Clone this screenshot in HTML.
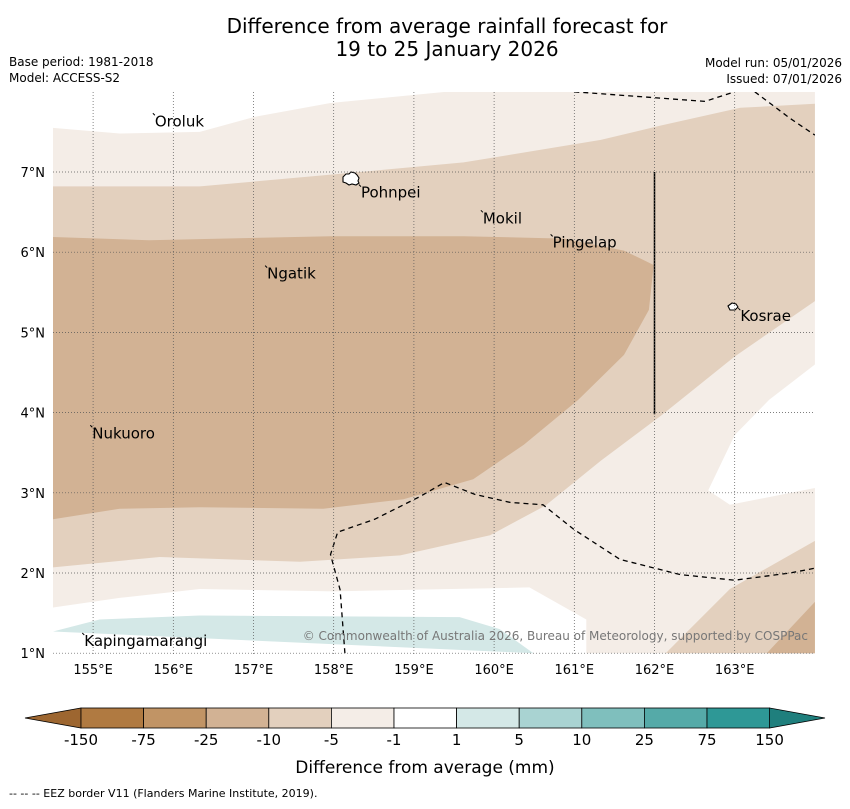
<!DOCTYPE html>
<html><head><meta charset="utf-8"><style>
body{margin:0;background:#fff;font-family:"Liberation Sans","DejaVu Sans",sans-serif}
svg text{font-family:"DejaVu Sans","Liberation Sans",sans-serif}
</style></head><body>
<svg id="c" width="850" height="804" viewBox="0 0 850 804">
<text x="447" y="33" font-size="20" text-anchor="middle">Difference from average rainfall forecast for</text>
<text x="447" y="56" font-size="20" text-anchor="middle">19 to 25 January 2026</text>
<text x="9" y="66" font-size="12">Base period: 1981-2018</text>
<text x="9" y="82" font-size="12">Model: ACCESS-S2</text>
<text x="842" y="67" font-size="12" text-anchor="end">Model run: 05/01/2026</text>
<text x="842" y="83" font-size="12" text-anchor="end">Issued: 07/01/2026</text>
<defs><clipPath id="mc"><rect x="53" y="92" width="762" height="562"/></clipPath></defs>
<g id="map" clip-path="url(#mc)"></g>
<g id="axes"></g>
<g id="cbar"></g>
<text x="425" y="773" font-size="17" text-anchor="middle">Difference from average (mm)</text>
<text x="9" y="797" font-size="11">--  --  -- EEZ border V11 (Flanders Marine Institute, 2019).</text>
</svg>
<script>
const lonTicks=[155,156,157,158,159,160,161,162,163];
const latTicks=[1,2,3,4,5,6,7];
const cbLabels=["-150","-75","-25","-10","-5","-1","1","5","10","25","75","150"];
const cbColors=["#b07a41","#c19465","#d2b294","#e3d0be","#f4ede7","#ffffff","#d4e8e7","#a9d3d2","#7fbfbd","#55aaa8","#2e9896"];
const bandMinus5=[[154.5,7.55],[155.33,7.48],[156.33,7.5],[157.02,7.69],[157.96,7.86],[159.4,8.0],[164,8],[164,4.6],[163.43,4.16],[163,3.72],[162.67,3.03],[162.94,2.85],[164,3.06],[164,1],[161.15,1],[161.15,1.42],[160.44,1.82],[158,1.77],[156.33,1.8],[155.33,1.69],[154.5,1.57]];
const bandMinus10=[[154.5,6.82],[156.33,6.82],[158,6.97],[159.62,7.12],[161.33,7.4],[162.08,7.58],[163.07,7.8],[164,7.85],[164,5.39],[163,4.7],[162.08,3.96],[161.33,3.4],[160.64,2.84],[159.95,2.47],[158.83,2.22],[157.58,2.14],[155.83,2.2],[154.5,2.07]];
const bandMinus25=[[154.5,6.19],[155.7,6.15],[157.96,6.2],[159.62,6.2],[160.87,6.17],[161.62,6.02],[161.99,5.84],[161.93,5.28],[161.62,4.72],[161.05,4.16],[160.37,3.6],[159.74,3.17],[158.87,2.92],[157.87,2.8],[156.33,2.82],[155.33,2.8],[154.5,2.67]];
const bandPlus1=[[154.5,1.27],[155.08,1.42],[156.33,1.47],[159.57,1.45],[160.07,1.3],[160.49,1]];
const brMinus10=[[162.14,1],[162.94,1.8],[164,2.4],[164,1]];
const brMinus25=[[163.4,1],[164,1.64],[164,1]];
const eezTop1=[[161,8],[162.63,7.88],[163,8]];
const eezTop2=[[163.25,8],[163.69,7.67],[164,7.46]];
const eezMid=[[158.14,1],[158.08,1.79],[157.96,2.23],[158.05,2.51],[158.51,2.67],[159.07,2.95],[159.38,3.13],[159.76,2.98],[160.2,2.88],[160.61,2.85],[161,2.54],[161.57,2.17],[162.32,1.98],[163,1.91],[163.69,2],[164,2.06]];
const places=[["Oroluk",155.77,7.57],["Pohnpei",158.34,6.68],["Mokil",159.86,6.36],["Pingelap",160.73,6.06],["Ngatik",157.17,5.67],["Kosrae",163.07,5.14],["Nukuoro",154.99,3.68],["Kapingamarangi",154.89,1.09]];
const X=lon=>53+(lon-154.5)*80.2, Y=lat=>172+(7-lat)*80.2;
const NS="http://www.w3.org/2000/svg";
function mk(t,a,p){const e=document.createElementNS(NS,t);for(const k in a)e.setAttribute(k,a[k]);p.appendChild(e);return e;}
const pts=a=>a.map(p=>X(p[0]).toFixed(1)+","+Y(p[1]).toFixed(1)).join(" ");
const map=document.getElementById('map');
let e=mk('rect',{x:53,y:92,width:762,height:562,fill:'#ffffff'},map);


const fills=[[bandMinus5,'#f4ede7','band-minus5'],[bandMinus10,'#e3d0be','band-minus10'],[bandMinus25,'#d2b294','band-minus25'],[bandPlus1,'#d4e8e7','band-plus1'],[brMinus10,'#e3d0be','band-minus10-se'],[brMinus25,'#d2b294','band-minus25-se']];
fills.forEach(f=>{let p=mk('polygon',{points:pts(f[0]),fill:f[1]},map);

});
const ax=document.getElementById('axes');
lonTicks.forEach(l=>{let g=mk('line',{x1:X(l),x2:X(l),y1:92,y2:654,stroke:'#555','stroke-width':0.7,'stroke-dasharray':'1,2'},ax);


let t=mk('text',{x:X(l),y:674,'font-size':13,'text-anchor':'middle'},ax);t.textContent=l+"°E";

});
latTicks.forEach(l=>{let g=mk('line',{x1:53,x2:815,y1:Y(l),y2:Y(l),stroke:'#555','stroke-width':0.7,'stroke-dasharray':'1,2'},ax);


let t=mk('text',{x:45,y:Y(l)+5,'font-size':13,'text-anchor':'end'},ax);t.textContent=l+"°N";

});
[eezTop1,eezTop2,eezMid].forEach(a=>{let p=mk('polyline',{points:pts(a),fill:'none',stroke:'#000','stroke-width':1.3,'stroke-dasharray':'5,4'},map);

});
e=mk('line',{x1:X(162),x2:X(162),y1:Y(7),y2:Y(3.98),stroke:'#000','stroke-width':1.5},map);


e=mk('path',{d:"M343,177 l3,-3 3,0 2,-2 4,1 2,2 2,3 -1,3 1,2 -3,2 -4,-1 -3,1 -3,-2 -3,-1z",fill:'#fff',stroke:'#000','stroke-width':1.1},map);


e=mk('path',{d:"M728,306 l4,-3 4,1 2,3 -3,3 -5,0z",fill:'#fff',stroke:'#000','stroke-width':1.1},map);


places.forEach(p=>{let t=mk('text',{x:X(p[1]),y:Y(p[2]),'font-size':15},ax);t.textContent=p[0];


let d=mk('line',{x1:X(p[1])-2,y1:Y(p[2])-13,x2:X(p[1]),y2:Y(p[2])-11,stroke:'#000','stroke-width':1},ax);

});
e=mk('text',{x:808,y:640,'font-size':12,'text-anchor':'end',fill:'#777'},ax);e.textContent="© Commonwealth of Australia 2026, Bureau of Meteorology, supported by COSPPac";


const cb=document.getElementById('cbar');
const bx0=81,bw=62.6,cy=708,ch=20;
e=mk('polygon',{points:`25,718 ${bx0},${cy} ${bx0},${cy+ch}`,fill:'#9d6630',stroke:'#000','stroke-width':0.8},cb);


const xr=bx0+bw*cbColors.length;
e=mk('polygon',{points:`${xr},${cy} 825,718 ${xr},${cy+ch}`,fill:'#1f7f7d',stroke:'#000','stroke-width':0.8},cb);


cbColors.forEach((c,i)=>{let r=mk('rect',{x:bx0+i*bw,y:cy,width:bw,height:ch,fill:c,stroke:'#000','stroke-width':0.8},cb);

});
cbLabels.forEach((l,i)=>{let t=mk('text',{x:bx0+i*bw,y:745,'font-size':15,'text-anchor':'middle'},cb);t.textContent=l;

});
</script>
</body></html>
